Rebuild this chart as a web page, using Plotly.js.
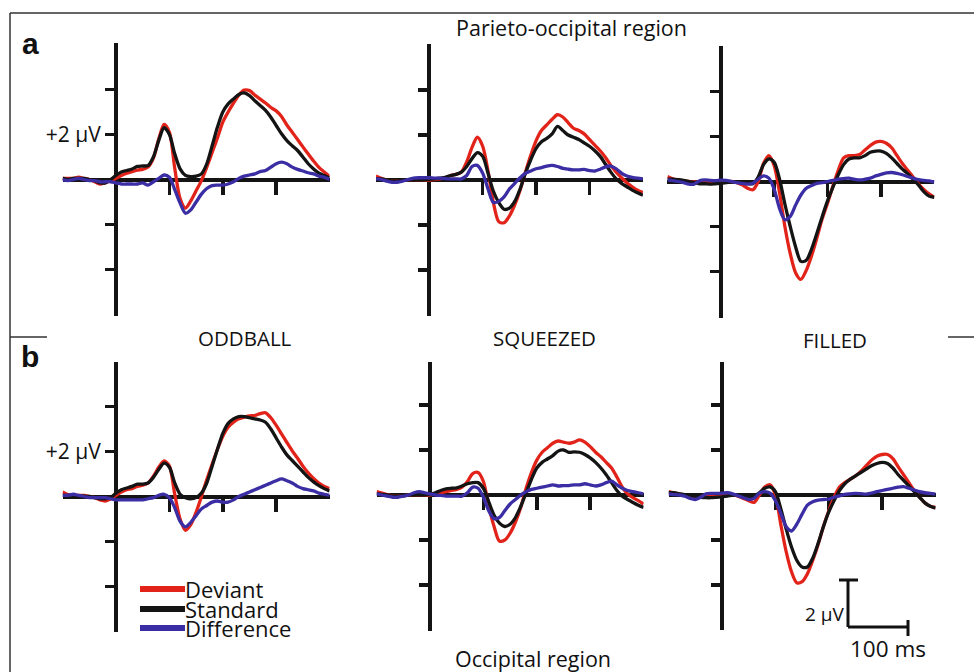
<!DOCTYPE html>
<html><head><meta charset="utf-8">
<script src="https://cdn.plot.ly/plotly-3.0.1.min.js"></script>
<style>html,body{margin:0;padding:0;background:#fff}#chart{width:974px;height:672px}</style>
</head><body><div id="chart"></div>
<script>
// ---------- data (time in ms, amplitude in µV) ----------
const timeMs = [-100,-90,-80,-70,-60,-50,-40,-30,-20,-10,
  0,10,20,30,40,50,60,70,80,90,
  100,110,120,130,140,150,160,170,180,190,
  200,210,220,230,240,250,260,270,280,290,
  300,310,320,330,340,350,360,370,380,390,400];

const conditionNames = ['ODDBALL','SQUEEZED','FILLED'];
const regionNames = ['Parieto-occipital region','Occipital region'];
const seriesNames = ['Deviant','Standard','Difference'];
const yTickVals = [-4,-2,2,4];
const yTickText = ['','','+2 µV',''];
const xTickVals = [100,200,300];

// a: Parieto-occipital region
const poOddballDeviant = [0.05,0.05,0.05,0.1,0.05,0,-0.1,-0.2,-0.15,-0.05,
  0.05,0.18,0.28,0.35,0.42,0.45,0.55,0.95,1.8,2.45,
  2.1,0.5,-0.85,-1.27,-0.95,-0.5,-0.05,0.55,1.2,1.85,
  2.55,3.0,3.4,3.75,3.97,3.95,3.75,3.57,3.4,3.2,
  3.05,2.8,2.42,2.1,1.78,1.45,1.13,0.82,0.54,0.33,0.13];
const poOddballStandard = [0.05,0,0.05,0.05,0.05,0,-0.05,-0.15,-0.15,0,
  0.18,0.33,0.4,0.47,0.58,0.6,0.62,1.0,1.73,2.3,
  2.0,1.14,0.47,0.18,0.13,0.15,0.25,0.7,1.5,2.33,
  3.0,3.36,3.58,3.78,3.85,3.73,3.5,3.29,3.07,2.77,
  2.4,2.03,1.73,1.5,1.29,1.0,0.7,0.47,0.28,0.18,0.07];
const poOddballDifference = [0,-0.05,0,0.05,0,-0.05,-0.05,-0.1,-0.1,-0.1,
  -0.15,-0.2,-0.2,-0.2,-0.2,-0.15,-0.25,-0.1,0.05,0.2,
  0.1,-0.45,-1.05,-1.5,-1.35,-1.0,-0.65,-0.4,-0.27,-0.25,
  -0.25,-0.2,-0.1,0.05,0.15,0.2,0.25,0.35,0.4,0.55,
  0.7,0.77,0.7,0.55,0.45,0.38,0.3,0.25,0.15,0.1,0];

const poSqueezedDeviant = [0.18,0.08,0,-0.05,-0.05,-0.02,0,0.02,0.02,0.02,
  0,0.02,0.05,0.1,0.2,0.25,0.35,0.8,1.45,1.9,
  1.5,0.4,-1.0,-1.85,-1.9,-1.6,-1.1,-0.45,0.35,1.1,
  1.75,2.2,2.45,2.7,2.9,2.8,2.55,2.3,2.2,2.05,
  1.8,1.55,1.3,1.0,0.65,0.35,0.1,-0.12,-0.3,-0.45,-0.56];
const poSqueezedStandard = [0.05,0.05,0,-0.05,-0.05,0,0,0.02,0.03,0.03,
  0.03,0.05,0.08,0.12,0.2,0.25,0.35,0.6,0.95,1.22,
  1.05,0.3,-0.5,-1.0,-1.3,-1.25,-0.95,-0.4,0.3,0.9,
  1.4,1.7,1.85,2.05,2.38,2.2,2.0,1.9,1.8,1.65,
  1.5,1.3,1.05,0.7,0.35,0.05,-0.15,-0.3,-0.45,-0.57,-0.68];
const poSqueezedDifference = [0.05,0.02,-0.05,-0.1,-0.1,-0.05,0.02,0.08,0.1,0.1,
  0.1,0.08,0.08,0.06,0.05,0.05,0.05,0.2,0.6,0.65,
  0.3,-0.4,-1.0,-0.95,-0.75,-0.4,-0.15,0.1,0.3,0.4,
  0.5,0.55,0.62,0.65,0.6,0.52,0.48,0.45,0.45,0.47,
  0.42,0.4,0.48,0.58,0.62,0.5,0.3,0.18,0.12,0.08,0.05];

const poFilledDeviant = [0.22,0.12,0.05,0.02,0,-0.02,-0.05,-0.05,-0.05,-0.05,
  -0.05,-0.02,0,-0.05,-0.15,-0.3,-0.37,0,0.8,1.15,
  0.7,-0.5,-2.0,-3.2,-4.05,-4.35,-3.95,-3.3,-2.5,-1.65,
  -0.95,-0.2,0.5,1.05,1.15,1.15,1.2,1.4,1.6,1.75,
  1.78,1.7,1.5,1.15,0.8,0.5,0.2,-0.1,-0.35,-0.55,-0.7];
const poFilledStandard = [0.1,0.1,0.08,0.05,0,-0.05,-0.1,-0.1,-0.12,-0.1,
  -0.08,-0.05,-0.02,-0.02,-0.05,-0.08,-0.1,0.2,0.75,1.0,
  0.85,0.1,-1.0,-2.0,-2.9,-3.55,-3.5,-3.0,-2.3,-1.55,
  -0.85,-0.25,0.3,0.75,1.0,1.05,1.05,1.15,1.3,1.35,
  1.35,1.25,1.05,0.8,0.55,0.35,0.1,-0.15,-0.45,-0.65,-0.7];
const poFilledDifference = [0.07,0.04,0,-0.05,-0.12,-0.12,0.03,0.07,0.05,0.04,
  0.06,0.05,0,-0.05,-0.08,-0.12,-0.08,0.1,0.25,0.15,
  -0.35,-1.2,-1.7,-1.55,-1.05,-0.6,-0.3,-0.18,-0.08,-0.05,
  0,0.05,0.1,0.13,0.15,0.1,0.07,0.1,0.15,0.25,
  0.32,0.38,0.4,0.36,0.3,0.22,0.15,0.08,0.05,0.03,-0.03];

// b: Occipital region
const ocOddballDeviant = [0.2,0.08,0.05,0.05,0.05,0,-0.05,-0.15,-0.2,-0.1,
  0.05,0.2,0.3,0.35,0.45,0.5,0.6,0.9,1.3,1.58,
  1.35,0.1,-1.0,-1.5,-1.25,-0.7,0,0.75,1.43,2.1,
  2.68,3.08,3.3,3.45,3.53,3.58,3.6,3.68,3.72,3.5,
  3.16,2.78,2.4,2.03,1.7,1.35,1.05,0.8,0.6,0.45,0.35];
const ocOddballStandard = [0.05,0.05,0.05,0.02,0.02,0,-0.05,-0.1,-0.1,-0.05,
  0.15,0.3,0.38,0.45,0.55,0.55,0.6,0.85,1.2,1.48,
  1.3,0.6,0.1,-0.05,-0.1,-0.05,0.15,0.6,1.35,2.1,
  2.8,3.25,3.45,3.55,3.55,3.5,3.45,3.4,3.3,3.0,
  2.6,2.2,1.85,1.6,1.35,1.1,0.85,0.65,0.48,0.35,0.25];
const ocOddballDifference = [0.05,0.05,0.1,0.05,0,-0.05,-0.05,-0.05,-0.05,-0.1,
  -0.15,-0.15,-0.15,-0.15,-0.15,-0.15,-0.1,-0.05,0.05,0.1,
  -0.05,-0.5,-1.1,-1.35,-1.15,-0.85,-0.55,-0.4,-0.25,-0.2,
  -0.25,-0.25,-0.15,0,0.1,0.2,0.3,0.4,0.5,0.6,
  0.7,0.78,0.7,0.6,0.45,0.35,0.3,0.25,0.15,0.1,0.05];

const ocSqueezedDeviant = [0.15,0.08,0.02,-0.05,-0.05,-0.03,0,0.02,0.02,0.02,
  0,0.05,0.1,0.15,0.2,0.25,0.35,0.6,0.95,1.0,
  0.6,-0.5,-1.4,-2.05,-2.0,-1.7,-1.2,-0.55,0.3,1.0,
  1.55,1.9,2.1,2.3,2.4,2.35,2.3,2.35,2.45,2.35,
  2.15,1.9,1.7,1.45,1.2,0.8,0.35,0.05,-0.12,-0.25,-0.4];
const ocSqueezedStandard = [0.05,0.03,0,-0.05,-0.05,-0.03,0,0.02,0.03,0.03,
  0.03,0.1,0.2,0.27,0.3,0.32,0.4,0.5,0.55,0.55,
  0.3,-0.3,-0.9,-1.25,-1.4,-1.3,-1.0,-0.5,0.1,0.7,
  1.2,1.45,1.6,1.75,1.95,2.0,1.9,1.92,1.9,1.8,
  1.65,1.45,1.2,0.9,0.55,0.2,-0.05,-0.2,-0.33,-0.45,-0.55];
const ocSqueezedDifference = [0.05,0,-0.05,-0.1,-0.1,-0.05,0,0.1,0.15,0.1,
  0.05,0,-0.02,-0.05,-0.05,-0.05,-0.05,0.1,0.35,0.3,
  -0.1,-0.7,-1.05,-1.0,-0.7,-0.4,-0.2,0,0.15,0.25,
  0.3,0.35,0.4,0.45,0.4,0.42,0.42,0.45,0.45,0.5,
  0.45,0.4,0.45,0.55,0.62,0.45,0.3,0.2,0.15,0.1,0.05];

const ocFilledDeviant = [0.15,0.1,0.05,0,-0.05,-0.1,-0.1,-0.08,-0.05,-0.03,
  -0.02,0,0.02,-0.05,-0.15,-0.25,-0.33,0,0.35,0.45,
  0,-1.3,-2.5,-3.4,-3.9,-3.85,-3.5,-2.9,-2.2,-1.4,
  -0.7,-0.1,0.35,0.55,0.7,0.85,1.05,1.3,1.55,1.72,
  1.8,1.8,1.62,1.25,0.9,0.55,0.2,-0.1,-0.35,-0.5,-0.55];
const ocFilledStandard = [0.1,0.1,0.05,0.02,0,-0.05,-0.1,-0.12,-0.12,-0.1,
  -0.08,-0.05,0,0,-0.05,-0.1,-0.05,0.1,0.3,0.36,
  0.15,-0.6,-1.5,-2.3,-2.9,-3.2,-3.2,-2.8,-2.15,-1.4,
  -0.75,-0.25,0.2,0.5,0.7,0.85,1.0,1.15,1.3,1.4,
  1.45,1.4,1.2,0.9,0.65,0.4,0.15,-0.1,-0.35,-0.5,-0.58];
const ocFilledDifference = [0.05,0.02,0,-0.05,-0.15,-0.2,-0.1,0.05,0.07,0.07,
  0.08,0.1,0.05,-0.04,-0.12,-0.2,-0.15,0.08,0.15,0.08,
  -0.25,-0.8,-1.4,-1.6,-1.3,-0.85,-0.45,-0.3,-0.23,-0.2,
  -0.18,-0.1,-0.04,0.03,0.05,0.07,0.06,0.04,0.08,0.15,
  0.2,0.25,0.3,0.35,0.37,0.3,0.22,0.15,0.1,0.07,0.04];

// ---------- layout ----------
const W = 974, H = 672;
const fx = p => p / W, fy = p => 1 - p / H;
const FONT = 'Open Sans, Noto Sans, sans-serif';
const colors = ['#e2231a', '#141414', '#3b2da3'];
const axisColor = '#141414';

const panelSeries = [
  [poOddballDeviant, poOddballStandard, poOddballDifference],
  [poSqueezedDeviant, poSqueezedStandard, poSqueezedDifference],
  [poFilledDeviant, poFilledStandard, poFilledDifference],
  [ocOddballDeviant, ocOddballStandard, ocOddballDifference],
  [ocSqueezedDeviant, ocSqueezedStandard, ocSqueezedDifference],
  [ocFilledDeviant, ocFilledStandard, ocFilledDifference]
];
// pixel geometry of each panel: x of t=0, y of 0 µV, top/bottom of the vertical axis
const geom = [
  {x0:116,   zero:179.5, top:43,  bottom:316},
  {x0:429.3, zero:180,   top:44,  bottom:316},
  {x0:720.8, zero:181.5, top:46,  bottom:318},
  {x0:116,   zero:496.5, top:362, bottom:632},
  {x0:430,   zero:495,   top:362, bottom:631},
  {x0:722,   zero:495,   top:362, bottom:630}
];
const pxPerMs = 0.534, pxPerUv = 22.5;

const traces = [];
const layout = {
  width: W, height: H,
  margin: {l:0, r:0, t:0, b:0},
  paper_bgcolor: '#fff', plot_bgcolor: 'rgba(0,0,0,0)',
  showlegend: false,
  font: {family: FONT, color: '#111'},
  shapes: [], annotations: []
};

geom.forEach((g, i) => {
  const n = i + 1;
  const xa = 'xaxis' + (n === 1 ? '' : n), ya = 'yaxis' + (n === 1 ? '' : n);
  const xr = 'x' + (n === 1 ? '' : n), yr = 'y' + (n === 1 ? '' : n);
  const t0 = timeMs[0], t1 = timeMs[timeMs.length - 1];
  layout[xa] = {
    domain: [fx(g.x0 + t0 * pxPerMs), fx(g.x0 + t1 * pxPerMs)],
    range: [t0, t1], anchor: 'free', position: fy(g.zero),
    showline: true, linewidth: 4, linecolor: axisColor,
    ticks: 'outside', tickvals: xTickVals, ticklen: 13, tickwidth: 3.5, tickcolor: axisColor,
    showticklabels: false, showgrid: false, zeroline: false, layer: 'below traces', fixedrange: true
  };
  const firstCol = (i % 3 === 0);
  layout[ya] = {
    domain: [fy(g.bottom), fy(g.top)],
    range: [-(g.bottom - g.zero) / pxPerUv, (g.zero - g.top) / pxPerUv],
    anchor: 'free', position: fx(g.x0),
    showline: true, linewidth: 4, linecolor: axisColor,
    ticks: 'outside', tickvals: yTickVals, ticktext: yTickText, ticklen: 9, tickwidth: 3.5, tickcolor: axisColor,
    showticklabels: firstCol, tickfont: {family: FONT, size: 21, color: '#111'},
    showgrid: false, zeroline: false, layer: 'below traces', fixedrange: true
  };
  panelSeries[i].forEach((vals, j) => {
    traces.push({
      type: 'scatter', mode: 'lines', x: timeMs, y: vals,
      xaxis: xr, yaxis: yr, name: seriesNames[j],
      line: {color: colors[j], width: 3.3, shape: 'spline', smoothing: 0.8},
      hoverinfo: 'skip', showlegend: false
    });
  });
});

// frame lines
const frame = [[10,13,974,13],[10,13,10,672],[10,337,47,337],[948,337,974,337]];
frame.forEach(f => layout.shapes.push({type:'line', xref:'paper', yref:'paper',
  x0:fx(f[0]), y0:fy(f[1]), x1:fx(f[2]), y1:fy(f[3]), line:{color:'#333', width:1.5}}));

function ann(text, x, y, size, opts) {
  layout.annotations.push(Object.assign({text, xref:'paper', yref:'paper', x:fx(x), y:fy(y),
    xanchor:'center', yanchor:'middle', showarrow:false, borderpad:0,
    font:{family:FONT, size, color:'#111'}}, opts || {}));
}
ann(regionNames[0], 571, 28, 21.5);
ann(regionNames[1], 533, 658, 21.5);
ann(conditionNames[0], 245, 338, 20.5);
ann(conditionNames[1], 544, 338, 20.5);
ann(conditionNames[2], 835, 340, 20.5);
ann('<b>a</b>', 30, 43, 30, {font:{family:'Liberation Sans, Arial, sans-serif', size:30, color:'#111'}});
ann('<b>b</b>', 30, 356, 30, {font:{family:'Liberation Sans, Arial, sans-serif', size:30, color:'#111'}});

// legend (drawn manually, inside panel b / ODDBALL)
const legendY = [589, 609, 628];
seriesNames.forEach((s, j) => {
  layout.shapes.push({type:'line', xref:'paper', yref:'paper', x0:fx(140), x1:fx(185),
    y0:fy(legendY[j]), y1:fy(legendY[j]), line:{color:colors[j], width:6}});
  ann(s, 184, legendY[j], 22, {xanchor:'left'});
});

// scale bar
const sb = [[848,580,848,627],[839,580,858,580],[848,627,908,627],[908,620,908,636]];
sb.forEach(f => layout.shapes.push({type:'line', xref:'paper', yref:'paper',
  x0:fx(f[0]), y0:fy(f[1]), x1:fx(f[2]), y1:fy(f[3]), line:{color:'#111', width:3}}));
ann('2 µV', 846, 614, 19, {xanchor:'right'});
ann('100 ms', 888, 648, 22.5);

Plotly.newPlot('chart', traces, layout, {staticPlot: true, displayModeBar: false});
</script>
</body></html>
